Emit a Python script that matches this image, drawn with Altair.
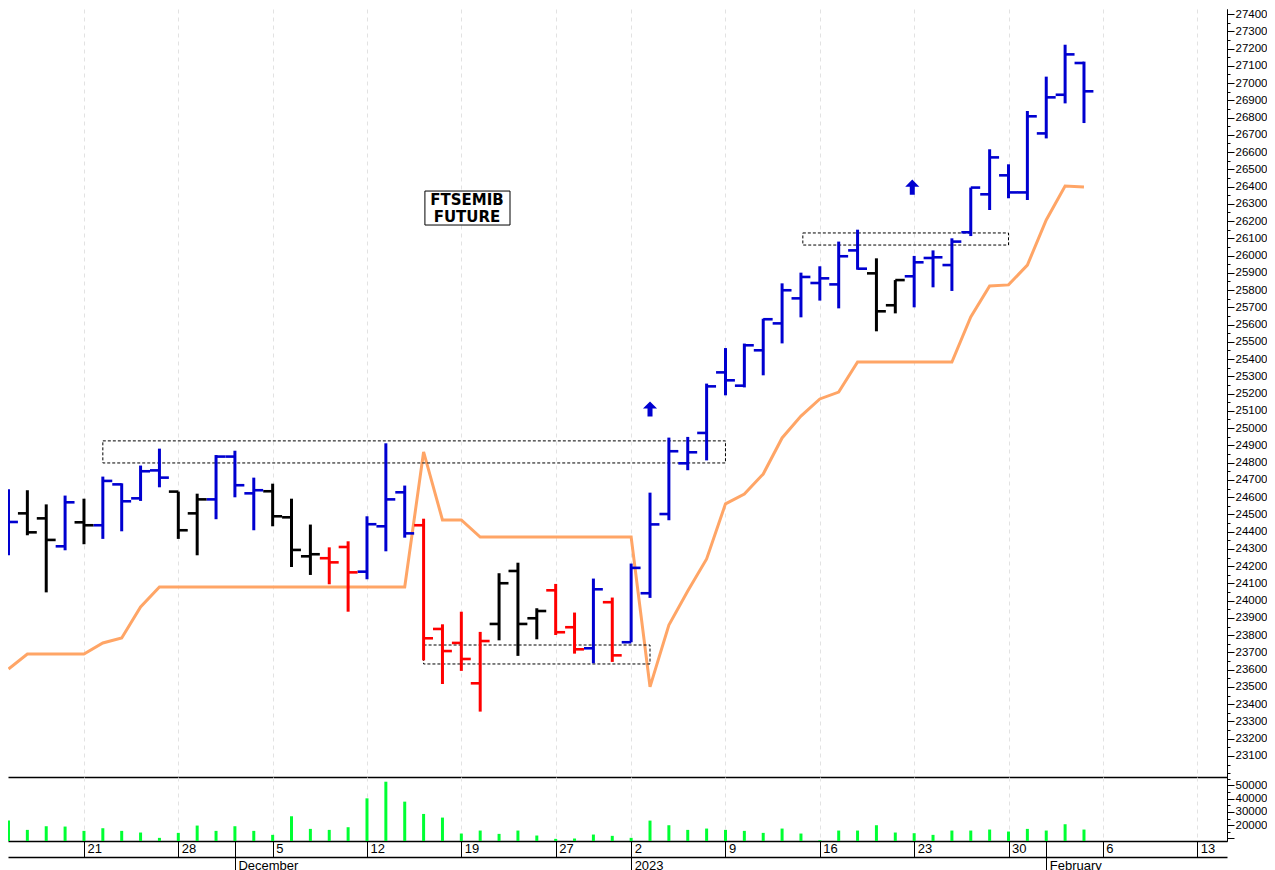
import json

import altair as alt
import pandas as pd

# one entry per trading day, 15 Nov 2022 to 3 Feb 2023
highs = [24645, 24640, 24558, 24609, 24591, 24719, 24680, 24783, 24881, 24632,
         24620, 24844, 24869, 24713, 24678, 24591, 24441, 24309, 24344, 24489,
         24912, 24667, 24475, 23863, 23936, 23819, 24159, 24220, 23956, 24097,
         23931, 24128, 24018, 24215, 24626, 24945, 24949, 25258, 25464, 25490,
         25634, 25839, 25901, 25938, 26081, 26150, 25984, 25858, 25998, 26030,
         26100, 26394, 26616, 26529, 26838, 27037, 27222, 27124]
lows = [24263, 24379, 24048, 24292, 24327, 24358, 24402, 24578, 24657, 24358,
        24263, 24472, 24599, 24408, 24431, 24195, 24149, 24095, 23936, 24124,
        24286, 24365, 23654, 23517, 23593, 23357, 23770, 23680, 23776, 23801,
        23693, 23637, 23645, 23759, 24016, 24466, 24756, 24813, 25190, 25236,
        25306, 25491, 25642, 25739, 25694, 25918, 25561, 25665, 25700, 25816,
        25795, 26113, 26264, 26332, 26322, 26679, 26882, 26768]
opens = [24472, 24506, 24477, 24315, 24454, 24437, 24674, 24593, 24755, 24632,
         24506, 24587, 24835, 24622, 24634, 24483, 24257, 24246, 24311, 24168,
         24431, 24628, 24437, 23836, 23755, 23521, 23865, 24172, 23898, 24060,
         23846, 23724, 23991, 23759, 24043, 24502, 24796, 24972, 25323, 25246,
         25451, 25607, 25752, 25841, 25833, 26030, 25897, 25712, 25880, 25986,
         25945, 26135, 26355, 26465, 26366, 26708, 26932, 27116]
closes = [24456, 24396, 24352, 24570, 24437, 24694, 24576, 24750, 24713, 24408,
          24587, 24835, 24669, 24640, 24489, 24294, 24269, 24222, 24164, 24443,
          24587, 24390, 23782, 23708, 23662, 23766, 24101, 23865, 23940, 23817,
          23718, 24066, 23683, 24190, 24442, 24866, 24860, 25242, 25277, 25480,
          25631, 25799, 25876, 25868, 25996, 25924, 25677, 25858, 25961, 25990,
          26081, 26394, 26569, 26366, 26807, 26917, 27166, 26952]
signals = (["up"] + ["flat"] * 2 + ["up"] + ["flat"] + ["up"] * 4 + ["flat"] * 2
           + ["up"] * 3 + ["flat"] * 3 + ["down"] * 2 + ["up"] * 3 + ["down"] * 4
           + ["flat"] * 3 + ["down"] * 2 + ["up"] + ["down"] + ["up"] * 13
           + ["flat"] * 2 + ["up"] * 10)
stops = [23604, 23691, 23691, 23691, 23691, 23755, 23784, 23964, 24079, 24079,
         24079, 24079, 24079, 24079, 24079, 24079, 24079, 24079, 24079, 24079,
         24079, 24079, 24862, 24468, 24468, 24369, 24369, 24369, 24369, 24369,
         24369, 24369, 24369, 24369, 23500, 23859, 24056, 24242, 24561, 24618,
         24734, 24943, 25070, 25169, 25209, 25383, 25383, 25383, 25383, 25383,
         25383, 25644, 25824, 25830, 25945, 26206, 26403, 26397]
volumes = [23500, 16490, 19250, 19000, 15740, 17740, 15740, 14490, 10470, 14230,
           19750, 15740, 19250, 15740, 12730, 26770, 17240, 16490, 18500, 40300,
           52840, 37800, 28520, 25770, 13730, 15990, 13480, 15990, 12230, 9720,
           9970, 12980, 11980, 10470, 23500, 20000, 16490, 17490, 16490, 15740,
           14230, 17490, 13730, 8700, 15990, 15990, 20000, 14490, 13980, 12730,
           15990, 15990, 16740, 15240, 17240, 15990, 20750, 16740]

week_ticks = [4, 9, 14, 19, 24, 29, 33, 38, 43, 48, 53, 58, 63]
week_labels = ["21", "28", "5", "12", "19", "27", "2", "9", "16", "23", "30", "6", "13"]
month_ticks = [12, 33, 55]
month_labels = ["December", "2023", "February"]

price_labelled = list(range(23100, 27401, 100))
price_minor = list(range(23000, 27451, 50))
volume_major = [10000, 20000, 30000, 40000, 50000]
volume_minor = [10000, 15000, 20000, 25000, 30000, 35000, 40000, 45000, 50000, 55000]

box_starts = [5, 22, 42.1]
box_ends = [38, 34, 53]
box_tops = [24926, 23743, 26131]
box_bottoms = [24798, 23633, 26061]

arrow_days = [34, 47.9]
arrow_prices = [25111, 26397]

note_lines = ["FTSEMIB", "FUTURE"]
note_prices = [26322, 26224]
note_day = 24.3
note_box = {"x": 22.07, "x2": 26.58, "y": 26374, "y2": 26177}

BLUE = "#0000D0"
RED = "#FF0000"
ORANGE = "#FFA566"
GREEN = "#00FF33"
FONT = "Liberation Sans"
ARROW = "M0,-1L0.93,-0.05L0.33,-0.05L0.33,1L-0.33,1L-0.33,-0.05L-0.93,-0.05Z"

bars = pd.DataFrame({
    "day": range(len(highs)),
    "high": highs,
    "low": lows,
    "open": opens,
    "close": closes,
    "signal": signals,
    "stop": stops,
    "volume": volumes,
})
boxes = pd.DataFrame({"x": box_starts, "x2": box_ends, "y": box_tops, "y2": box_bottoms})
arrows = pd.DataFrame({"day": arrow_days, "price": arrow_prices})
notes = pd.DataFrame({"line": note_lines, "price": note_prices, "day": note_day})

x_domain = [-0.026, 64.58]
x_scale = alt.Scale(domain=x_domain, nice=False, zero=False)
price_scale = alt.Scale(domain=[22978, 27429], nice=False, zero=False)
volume_scale = alt.Scale(domain=[8100, 56400], nice=False, zero=False)
signal_color = alt.Color(
    "signal:N",
    scale=alt.Scale(domain=["up", "flat", "down"], range=[BLUE, "black", RED]),
    legend=None,
)


def day_axis(**kwargs):
    return alt.Axis(
        orient="bottom", title=None, values=week_ticks, grid=True, gridColor="#E2E2E2",
        gridDash=[4, 4], gridWidth=1, labels=False, ticks=False, domain=True,
        domainColor="black", domainWidth=1.5, **kwargs,
    )


def right_axis(values, tick_size, labelled, label_expr=None):
    # 1259px is all the page gives, a wider svg gets scaled down by the browser
    opts = dict(
        orient="right", title=None, values=values, grid=False, tickSize=tick_size,
        tickColor="black", tickWidth=1, domain=True, domainColor="black", domainWidth=1,
        labels=labelled, labelFont=FONT, labelFontSize=11.5, labelColor="black",
        labelPadding=1, labelOverlap=False, labelBound=False, labelFlush=False, format="d",
    )
    if label_expr:
        opts["labelExpr"] = label_expr
    return alt.Axis(**opts)


base = alt.Chart(bars)
no_x = alt.X("day:Q", scale=x_scale, axis=None)
no_y = alt.Y("low:Q", scale=price_scale, axis=None)
no_vol_y = alt.Y("volume:Q", scale=volume_scale, axis=None)

# axes first, one layer each, so they can be independent
price_grid = base.mark_rule(opacity=0).encode(
    x=alt.X("day:Q", scale=x_scale, axis=day_axis()),
    y=alt.Y("low:Q", scale=price_scale, axis=right_axis(price_labelled, 7, True)),
)
price_minor_ticks = base.mark_rule(opacity=0).encode(
    x=no_x,
    y=alt.Y("low:Q", scale=price_scale, axis=right_axis(price_minor, 3, False)),
)

ranges = base.mark_rule(strokeWidth=3, clip=True).encode(
    x=no_x, y=no_y, y2="high:Q", color=signal_color,
)
open_ticks = base.transform_calculate(left="datum.day - 0.5").mark_rule(strokeWidth=2.6, clip=True).encode(
    x=alt.X("left:Q", scale=x_scale, axis=None), x2="day:Q",
    y=alt.Y("open:Q", scale=price_scale, axis=None), color=signal_color,
)
close_ticks = base.transform_calculate(right="datum.day + 0.5").mark_rule(strokeWidth=2.6, clip=True).encode(
    x=no_x, x2="right:Q",
    y=alt.Y("close:Q", scale=price_scale, axis=None), color=signal_color,
)
stop_line = base.mark_line(color=ORANGE, strokeWidth=3, clip=True).encode(
    x=no_x, y=alt.Y("stop:Q", scale=price_scale, axis=None),
)
box_marks = alt.Chart(boxes).mark_rect(
    fillOpacity=0, stroke="black", strokeWidth=1, strokeDash=[3, 2],
).encode(
    x=alt.X("x:Q", scale=x_scale, axis=None), x2="x2:Q",
    y=alt.Y("y:Q", scale=price_scale, axis=None), y2="y2:Q",
)
arrow_marks = alt.Chart(arrows).mark_point(
    shape=ARROW, size=230, filled=True, color=BLUE, opacity=1,
).encode(
    x=alt.X("day:Q", scale=x_scale, axis=None),
    y=alt.Y("price:Q", scale=price_scale, axis=None),
)
note_frame = alt.Chart(pd.DataFrame([note_box])).mark_rect(
    fill="white", stroke="black", strokeWidth=1,
).encode(
    x=alt.X("x:Q", scale=x_scale, axis=None), x2="x2:Q",
    y=alt.Y("y:Q", scale=price_scale, axis=None), y2="y2:Q",
)
note_text = alt.Chart(notes).mark_text(
    font="DejaVu Sans", fontSize=15, fontWeight="bold", color="black",
).encode(
    x=alt.X("day:Q", scale=x_scale, axis=None),
    y=alt.Y("price:Q", scale=price_scale, axis=None),
    text="line:N",
)

price_panel = alt.layer(
    price_grid, price_minor_ticks, stop_line, box_marks, ranges, open_ticks, close_ticks,
    arrow_marks, note_frame, note_text,
).resolve_axis(x="independent", y="independent").properties(width=1219, height=768)

week_map = json.dumps({str(t): l for t, l in zip(week_ticks, week_labels)})
month_map = json.dumps({str(t): l for t, l in zip(month_ticks, month_labels)})
date_axis_style = dict(
    orient="bottom", title=None, grid=False, domain=True, domainColor="black",
    domainWidth=1.5, tickColor="black", tickWidth=1, labelFont=FONT, labelFontSize=13,
    labelColor="black", labelAlign="left", labelBound=False, labelFlush=False,
    labelOverlap=False, format="d",
)
volume_y_main = right_axis(
    volume_major, 7, True, "datum.value >= 20000 ? datum.label : ''"
)

volume_week_axis = base.mark_rule(opacity=0).encode(
    x=alt.X("day:Q", scale=x_scale, axis=alt.Axis(
        values=week_ticks, tickSize=16, labelExpr=f"{week_map}[datum.label]",
        labelPadding=-15, labelOffset=3, labelBaseline="top", **date_axis_style,
    )),
    y=alt.Y("volume:Q", scale=volume_scale, axis=volume_y_main),
)
volume_month_axis = base.mark_rule(opacity=0).encode(
    x=alt.X("day:Q", scale=x_scale, axis=alt.Axis(
        values=month_ticks, tickSize=14, offset=16, labelExpr=f"{month_map}[datum.label]",
        labelPadding=-12, labelOffset=3, labelBaseline="top", **date_axis_style,
    )),
    y=alt.Y("volume:Q", scale=volume_scale, axis=right_axis(volume_minor, 3, False)),
)
volume_month_top = base.mark_rule(opacity=0).encode(
    x=alt.X("day:Q", scale=x_scale, axis=alt.Axis(
        values=month_ticks, tickSize=16, labels=False, domain=False, orient="bottom",
        title=None, grid=False, tickColor="black", tickWidth=1,
    )),
    y=no_vol_y,
)
volume_grid = base.mark_rule(opacity=0).encode(
    x=alt.X("day:Q", scale=x_scale, axis=alt.Axis(
        orient="bottom", title=None, values=week_ticks, grid=True, gridColor="#E2E2E2",
        gridDash=[4, 4], gridWidth=1, labels=False, ticks=False, domain=False,
    )),
    y=no_vol_y,
)
volume_bars = base.mark_rule(color=GREEN, strokeWidth=3, clip=True).encode(
    x=no_x,
    y=no_vol_y,
    y2=alt.datum(8100),
)

volume_panel = alt.layer(
    volume_week_axis, volume_month_axis, volume_month_top, volume_grid, volume_bars,
).resolve_axis(x="independent", y="independent").properties(width=1219, height=64)

chart = (
    alt.vconcat(price_panel, volume_panel, spacing=0, bounds="flush")
    .properties(padding=0, background="white")
    .configure_view(stroke=None)
)

chart.save("out.html", embed_options={"renderer": "svg", "actions": False})
